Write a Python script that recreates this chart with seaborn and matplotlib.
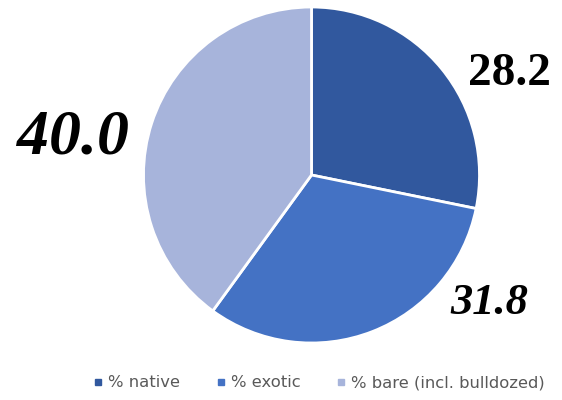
import matplotlib
matplotlib.use("Agg")
import matplotlib.pyplot as plt
from matplotlib.lines import Line2D
import seaborn as sns

categories = ["% native", "% exotic", "% bare (incl. bulldozed)"]
values = [28.2, 31.8, 40.0]
value_labels = ["28.2", "31.8", "40.0"]

sns.set_theme(style="white")
colors = ["#31589E", "#4472C4", "#A7B4DB"]

fig = plt.figure(figsize=(5.62, 4.0), dpi=100)
ax = fig.add_axes([143 / 562, (400 - 343) / 400, 337 / 562, 336 / 400])

wedges, _ = ax.pie(values, colors=colors, startangle=90, counterclock=False,
                   radius=1.0, wedgeprops=dict(edgecolor="white", linewidth=2))
ax.set_xlim(-1, 1)
ax.set_ylim(-1, 1)
ax.set_aspect("equal")
ax.axis("off")

# value annotations beside each slice
label_pos = [(1.18, 0.60), (1.06, -0.76), (-1.42, 0.22)]
label_style = [("normal", 34), ("italic", 32), ("italic", 46)]
for txt, (x, y), (st, fs) in zip(value_labels, label_pos, label_style):
    ax.text(x, y, txt, ha="center", va="center", fontsize=fs,
            fontweight="bold", fontstyle=st, family="Liberation Serif",
            color="black", clip_on=False)

handles = [Line2D([0], [0], marker="s", linestyle="none", markersize=5,
                  markerfacecolor=c, markeredgecolor=c) for c in colors]
fig.legend(handles, categories, loc="center", bbox_to_anchor=(0.566, 0.043),
           ncol=3, frameon=False, fontsize=11.8, labelcolor="#595959",
           handletextpad=0.2, columnspacing=2.1, handlelength=0.8)

fig.savefig("out.png", dpi=100, facecolor="white")
